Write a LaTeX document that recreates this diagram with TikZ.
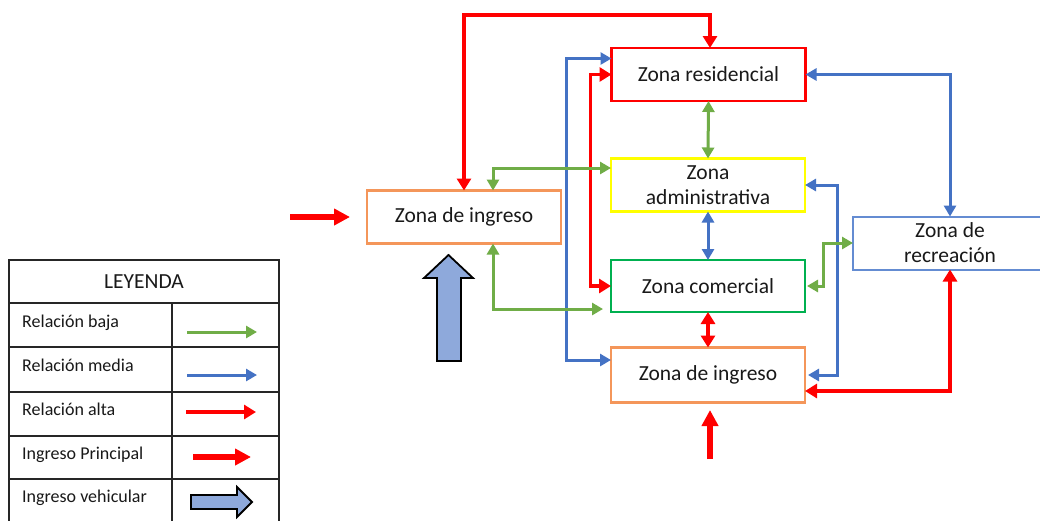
\documentclass[tikz,border=0pt]{standalone}
\usepackage{fontspec}
\setmainfont{Carlito}
\usetikzlibrary{arrows.meta}
\definecolor{cred}{RGB}{255,0,0}
\definecolor{cblue}{RGB}{68,114,196}
\definecolor{cgreen}{RGB}{112,173,71}
\definecolor{corange}{RGB}{244,150,90}
\definecolor{cyellow}{RGB}{255,255,0}
\definecolor{cgreenbox}{RGB}{0,176,80}
\definecolor{crec}{RGB}{100,140,210}
\definecolor{cveh}{RGB}{142,169,219}
\definecolor{ctext}{RGB}{25,25,25}
\tikzset{
  gT/.tip={Triangle[length=11pt,width=12pt]},
  rT/.tip={Triangle[length=12pt,width=14pt]},
  pT/.tip={Triangle[length=16pt,width=16pt]},
}
\begin{document}
\begin{tikzpicture}[x=1pt,y=-1pt,
  zone/.style={draw, line width=2.3pt, minimum width=194pt, minimum height=53pt,
    inner sep=0pt, outer sep=0pt, align=center, text=ctext,
    font=\fontsize{21.5}{25}\selectfont},
  baja/.style={draw=cgreen, line width=3pt, arrows={gT-gT}},
  media/.style={draw=cblue, line width=3pt, arrows={gT-gT}},
  alta/.style={draw=cred, line width=4.6pt, arrows={rT-rT}},
  principal/.style={draw=cred, line width=6pt, arrows={-pT}},
  legline/.style={draw=black!85, line width=1.6pt},
  legtext/.style={anchor=base west, inner sep=0pt, text=ctext, font=\fontsize{18}{20}\selectfont},
  vehic/.style={fill=cveh, draw=black, line width=1.8pt, line join=miter},
]
\clip (0,0) rectangle (1040,520);
\fill[white] (0,0) rectangle (1040,520);

% zones
\node[zone, draw=cred] (res) at (708.5,74.5) {Zona residencial};
\node[zone, draw=cyellow] (adm) at (708,185) {Zona\\administrativa};
\node[zone, draw=cgreenbox, minimum height=52pt] (com) at (708,286) {Zona comercial};
\node[zone, draw=corange, minimum height=55pt] (ingB) at (708,375) {Zona de ingreso};
\node[zone, draw=corange] (ingL) at (464,217) {Zona de ingreso};
\node[zone, draw=crec, line width=2pt] (rec) at (950,243) {Zona de\\recreación};

% connectors
\draw[alta] (ingL.north) |- ([xshift=1.5pt,yshift=33pt]res.north) -- ([xshift=1.5pt]res.north);
\draw[media] ([yshift=16pt]res.west) -- ++(-45pt,0) |- ([yshift=15pt]ingB.west);
\draw[alta, line width=3.8pt] (res.west) -- ++(-21pt,0) |- (com.west);
\draw[baja] ([xshift=29pt]ingL.north) |- ([yshift=17pt]adm.west);
\draw[baja] ([xshift=29pt]ingL.south) |- ([xshift=-8pt,yshift=-23pt]com.west);
\draw[baja] (res.south) -- (adm.north);
\draw[media] (adm.south) -- (com.north);
\draw[alta] (com.south) -- (ingB.north);
\draw[media] (res.east) -| (rec.north);
\draw[media] (adm.east) -- ++(32pt,0) |- ([xshift=3pt]ingB.east);
\draw[baja] ([xshift=2pt]com.east) -- ++(16pt,0) |- (rec.west);
\draw[alta] ([yshift=-16pt]ingB.east) -| (rec.south);

% entries
\coordinate (e1) at (290,217);
\draw[principal] (e1) -- ([xshift=-17pt]ingL.west);
\coordinate (e2) at (710,459);
\draw[principal] (e2) -- (710,410);

% vehicle arrow
\draw[vehic] (437,361) -- (437,278) -- (424,278) -- (448.5,255) -- (473,278)
  -- (461,278) -- (461,361) -- cycle;

% legend
\draw[legline] (9,260) rectangle (279,540);
\foreach \yy in {303,347,392,436,479} \draw[legline] (9,\yy) -- (279,\yy);
\draw[legline] (172,303) -- (172,540);
\node[text=ctext, font=\fontsize{21.5}{25}\selectfont] (ley) at (144,281.5) {LEYENDA};
\node[legtext] (l1) at (22,327) {Relación baja};
\node[legtext] (l2) at (22,371) {Relación media};
\node[legtext] (l3) at (22,415) {Relación alta};
\node[legtext] (l4) at (22,459) {Ingreso Principal};
\node[legtext] (l5) at (22,502) {Ingreso vehicular};
\draw[draw=cgreen, line width=3pt, -gT] (187,332) -- (257,332);
\draw[draw=cblue, line width=3pt, -gT] (187,375) -- (257,375);
\draw[draw=cred, line width=4.6pt, -rT] (186,412) -- (256,412);
\draw[principal] (193,457) -- (251,457);
\draw[vehic] (191,495) -- (237,495) -- (237,487) -- (252,502) -- (237,517)
  -- (237,509) -- (191,509) -- cycle;
\end{tikzpicture}
\end{document}
